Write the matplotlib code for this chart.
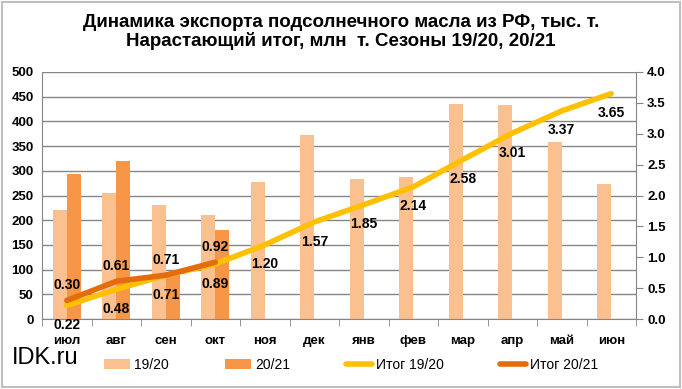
import matplotlib.pyplot as plt
import numpy as np
from matplotlib.patches import Rectangle

plt.rcParams['font.family'] = ['Liberation Sans', 'DejaVu Sans']

months = ['июл', 'авг', 'сен', 'окт', 'ноя', 'дек', 'янв', 'фев', 'мар', 'апр', 'май', 'июн']
exp_1920 = [220, 256, 230, 210, 278, 372, 283, 288, 436, 433, 359, 274]
exp_2021 = [294, 319, 95, 180]
tot_1920 = [0.22, 0.48, 0.71, 0.89, 1.20, 1.57, 1.85, 2.14, 2.58, 3.01, 3.37, 3.65]
tot_2021 = [0.30, 0.61, 0.71, 0.92]

c1 = '#FAC090'
c2 = '#F79646'
c3 = '#FFC000'
c4 = '#E46C0A'

fig = plt.figure(figsize=(6.82, 3.89), dpi=100)
fig.patches.append(Rectangle((0.003, 0.005), 0.994, 0.99, transform=fig.transFigure,
                             fill=False, edgecolor='#BFBFBF', lw=1.5))
ax = fig.add_axes([42 / 682, 70 / 389, 594 / 682, 247 / 389])
ax2 = ax.twinx()

x = np.arange(len(months))
ax.bar(x - 0.14, exp_1920, width=0.28, color=c1, label='19/20', zorder=2)
ax.bar(x[:len(exp_2021)] + 0.14, exp_2021, width=0.28, color=c2, label='20/21', zorder=2)
ax.set_xlim(-0.5, 11.5)
ax.set_ylim(0, 500)
ax.set_yticks(range(0, 501, 50))
ax.grid(axis='y', color='#868686', lw=1, zorder=0)
ax.set_axisbelow(True)
ax.set_xticks(x)
ax.set_xticklabels(months, fontsize=9.5, fontweight='bold')
ax.tick_params(axis='x', length=0, pad=11.5)
ax.set_xticks(np.arange(-0.5, 12, 1), minor=True)
ax.tick_params(axis='x', which='minor', length=5, color='#868686')
ax.tick_params(axis='y', length=0, labelsize=9.5, pad=6)
for t in ax.get_yticklabels():
    t.set_fontweight('bold')
for s in ['top', 'right']:
    ax.spines[s].set_visible(False)
ax.spines['left'].set_color('#868686')
ax.spines['bottom'].set_color('#868686')

ax2.plot(x, tot_1920, color=c3, lw=4, label='Итог 19/20', zorder=3, solid_capstyle='round')
ax2.plot(x[:len(tot_2021)], tot_2021, color=c4, lw=4, label='Итог 20/21', zorder=4,
         solid_capstyle='round')
ax2.set_ylim(0, 4)
ax2.set_yticks(np.arange(0, 4.01, 0.5))
ax2.set_yticklabels(['%.1f' % v for v in np.arange(0, 4.01, 0.5)], fontsize=9.5, fontweight='bold')
ax2.tick_params(axis='y', length=5, color='#868686', pad=3)
for s in ['top', 'left', 'bottom']:
    ax2.spines[s].set_visible(False)
ax2.spines['right'].set_color('#868686')

for i, v in enumerate(tot_1920):
    ax2.annotate('%.2f' % v, (i, v), xytext=(0, -9), textcoords='offset points',
                 ha='center', va='top', fontsize=10, fontweight='bold')
for i, v in enumerate(tot_2021):
    ax2.annotate('%.2f' % v, (i, v), xytext=(0, 6), textcoords='offset points',
                 ha='center', va='bottom', fontsize=10, fontweight='bold')

fig.text(0.5, 0.965, 'Динамика экспорта подсолнечного масла из РФ, тыс. т.\n'
         'Нарастающий итог, млн  т. Сезоны 19/20, 20/21',
         ha='center', va='top', fontsize=13.5, fontweight='bold', linespacing=1.1)
fig.text(0.018, 0.08, 'IDK.ru', fontsize=17, va='center')

h1, l1 = ax.get_legend_handles_labels()
h2, l2 = ax2.get_legend_handles_labels()
fig.legend(h1 + h2, l1 + l2, loc='center', bbox_to_anchor=(0.515, 0.062), ncol=4,
           frameon=False, fontsize=10, columnspacing=4.0, handlelength=1.9, handletextpad=0.3)

fig.savefig('out.png', dpi=100)
